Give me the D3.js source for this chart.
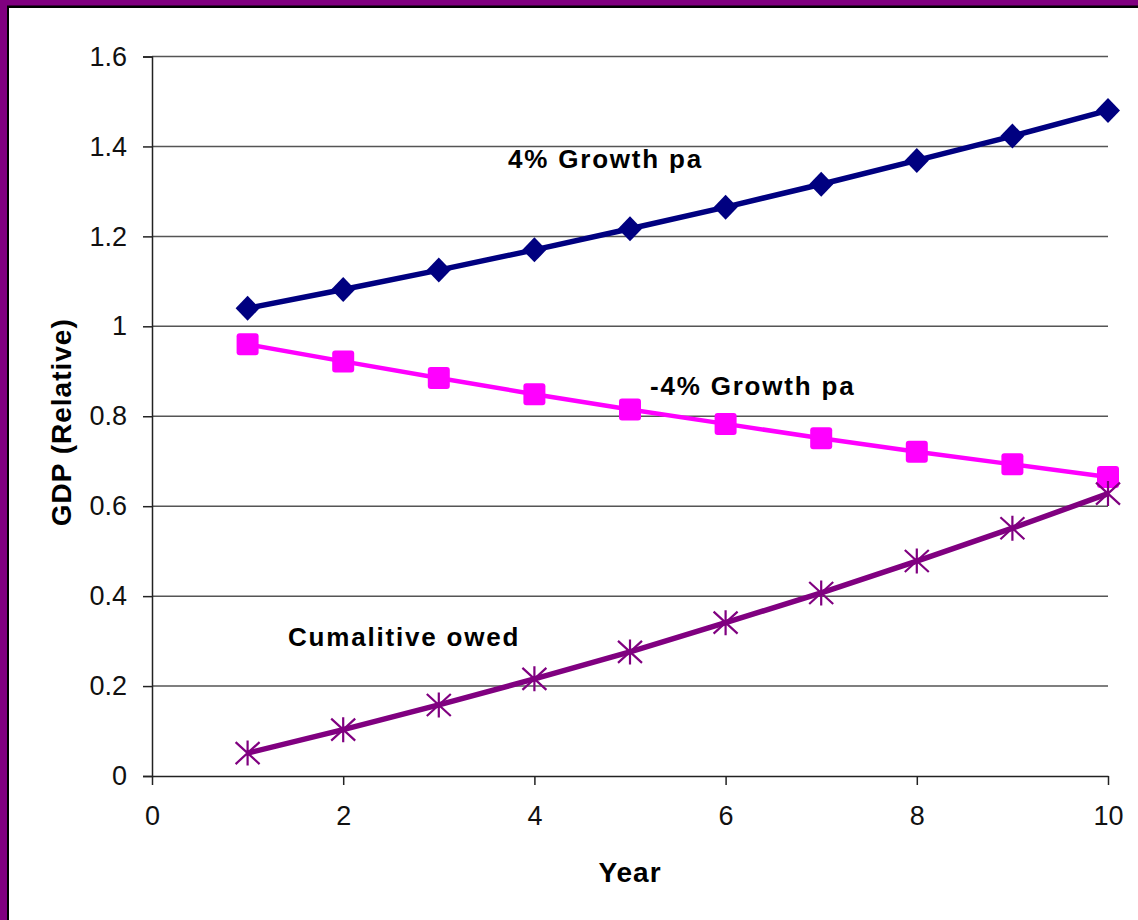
<!DOCTYPE html>
<html>
<head>
<meta charset="utf-8">
<script src="https://cdn.jsdelivr.net/npm/d3@7"></script>
<style>
  html, body { margin: 0; padding: 0; background: #fff; }
  svg { display: block; }
  text { font-family: "Liberation Sans", Arial, sans-serif; }
</style>
</head>
<body>
<script>
// Relative GDP over ten years
const years = [1, 2, 3, 4, 5, 6, 7, 8, 9, 10];
const growthUp = [1.04, 1.082, 1.125, 1.17, 1.217, 1.265, 1.316, 1.369, 1.423, 1.48];
const growthDown = [0.96, 0.922, 0.885, 0.849, 0.815, 0.783, 0.751, 0.721, 0.693, 0.665];
const owed = [0.051, 0.103, 0.158, 0.216, 0.276, 0.341, 0.407, 0.478, 0.551, 0.628];
const xTicks = [0, 2, 4, 6, 8, 10];
const yTicks = [0, 0.2, 0.4, 0.6, 0.8, 1, 1.2, 1.4, 1.6];
const seriesLabels = ["4% Growth pa", "-4% Growth pa", "Cumalitive owed"];

const W = 1138, H = 920;
const svg = d3.select("body").append("svg").attr("width", W).attr("height", H);

// frame: purple band with a dark inner edge along top and left
svg.append("rect").attr("x", 0).attr("y", 0).attr("width", W).attr("height", H).attr("fill", "#fff");
svg.append("rect").attr("x", 0).attr("y", 0).attr("width", W).attr("height", 8).attr("fill", "#000");
svg.append("rect").attr("x", 0).attr("y", 0).attr("width", 9).attr("height", H).attr("fill", "#000");
svg.append("rect").attr("x", 0).attr("y", 0).attr("width", W).attr("height", 5.5).attr("fill", "#800080");
svg.append("rect").attr("x", 0).attr("y", 0).attr("width", 7).attr("height", H).attr("fill", "#800080");

const x = d3.scaleLinear().domain([0, 10]).range([152, 1108]);
const y = d3.scaleLinear().domain([0, 1.6]).range([776, 56.5]);

// horizontal gridlines
svg.append("g").selectAll("line").data(yTicks.filter(d => d > 0)).join("line")
  .attr("x1", x(0)).attr("x2", x(10))
  .attr("y1", d => y(d)).attr("y2", d => y(d))
  .attr("stroke", "#555").attr("stroke-width", 1.5);

// y axis
const yAxis = svg.append("g").attr("transform", `translate(${x(0)},0)`)
  .call(d3.axisLeft(y).tickValues(yTicks).tickSize(9).tickPadding(16)
    .tickFormat(d => d3.format("")(+d.toFixed(1))));
yAxis.select(".domain").attr("stroke", "#222").attr("stroke-width", 1.5);
yAxis.selectAll(".tick line").attr("stroke", "#222").attr("stroke-width", 1.5);
yAxis.selectAll(".tick text").attr("font-size", 27).attr("fill", "#111")
  .attr("font-family", "Liberation Sans, Arial, sans-serif");

// x axis
const xAxis = svg.append("g").attr("transform", `translate(0,${y(0)})`)
  .call(d3.axisBottom(x).tickValues(xTicks).tickSize(9).tickPadding(21).tickSizeOuter(0));
xAxis.select(".domain").attr("stroke", "#222").attr("stroke-width", 1.5);
xAxis.selectAll(".tick line").attr("stroke", "#222").attr("stroke-width", 1.5);
xAxis.selectAll(".tick text").attr("font-size", 27).attr("fill", "#111")
  .attr("font-family", "Liberation Sans, Arial, sans-serif");

// axis titles
svg.append("text").attr("x", (x(0) + x(10)) / 2).attr("y", 882)
  .attr("text-anchor", "middle").attr("font-size", 28).attr("font-weight", "bold")
  .attr("letter-spacing", 1).text("Year");
svg.append("text").attr("transform", `translate(71,${(y(0) + y(1.6)) / 2 + 6}) rotate(-90)`)
  .attr("text-anchor", "middle").attr("font-size", 28).attr("font-weight", "bold")
  .attr("letter-spacing", 1).text("GDP (Relative)");

const line = d3.line().x((d, i) => x(years[i])).y(d => y(d));

// 4% growth: navy with diamonds
svg.append("path").datum(growthUp).attr("d", line)
  .attr("fill", "none").attr("stroke", "#000080").attr("stroke-width", 5.5).attr("stroke-linejoin", "round");
svg.append("g").selectAll("path").data(growthUp).join("path")
  .attr("transform", (d, i) => `translate(${x(years[i])},${y(d)})`)
  .attr("d", "M0,-12.5L12,0L0,12.5L-12,0Z").attr("fill", "#000080");

// -4% growth: magenta with squares
svg.append("path").datum(growthDown).attr("d", line)
  .attr("fill", "none").attr("stroke", "#ff00ff").attr("stroke-width", 4.5).attr("stroke-linejoin", "round");
svg.append("g").selectAll("rect").data(growthDown).join("rect")
  .attr("x", (d, i) => x(years[i]) - 11).attr("y", d => y(d) - 11)
  .attr("width", 22).attr("height", 22).attr("rx", 3).attr("fill", "#ff00ff");

// cumulative owed: purple with star markers
svg.append("path").datum(owed).attr("d", line)
  .attr("fill", "none").attr("stroke", "#800080").attr("stroke-width", 5.5).attr("stroke-linejoin", "round");
svg.append("g").selectAll("path").data(owed).join("path")
  .attr("transform", (d, i) => `translate(${x(years[i])},${y(d)})`)
  .attr("d", "M0,-12.5V12.5M-12,-11L12,11M-12,11L12,-11")
  .attr("fill", "none").attr("stroke", "#800080").attr("stroke-width", 2.2);

// series labels
const labelPos = [[508, 168], [650, 395], [288, 646]];
svg.append("g").selectAll("text").data(seriesLabels).join("text")
  .attr("x", (d, i) => labelPos[i][0]).attr("y", (d, i) => labelPos[i][1])
  .attr("font-size", 26).attr("font-weight", "bold").attr("fill", "#000")
  .attr("letter-spacing", 1.8).text(d => d);
</script>
</body>
</html>
